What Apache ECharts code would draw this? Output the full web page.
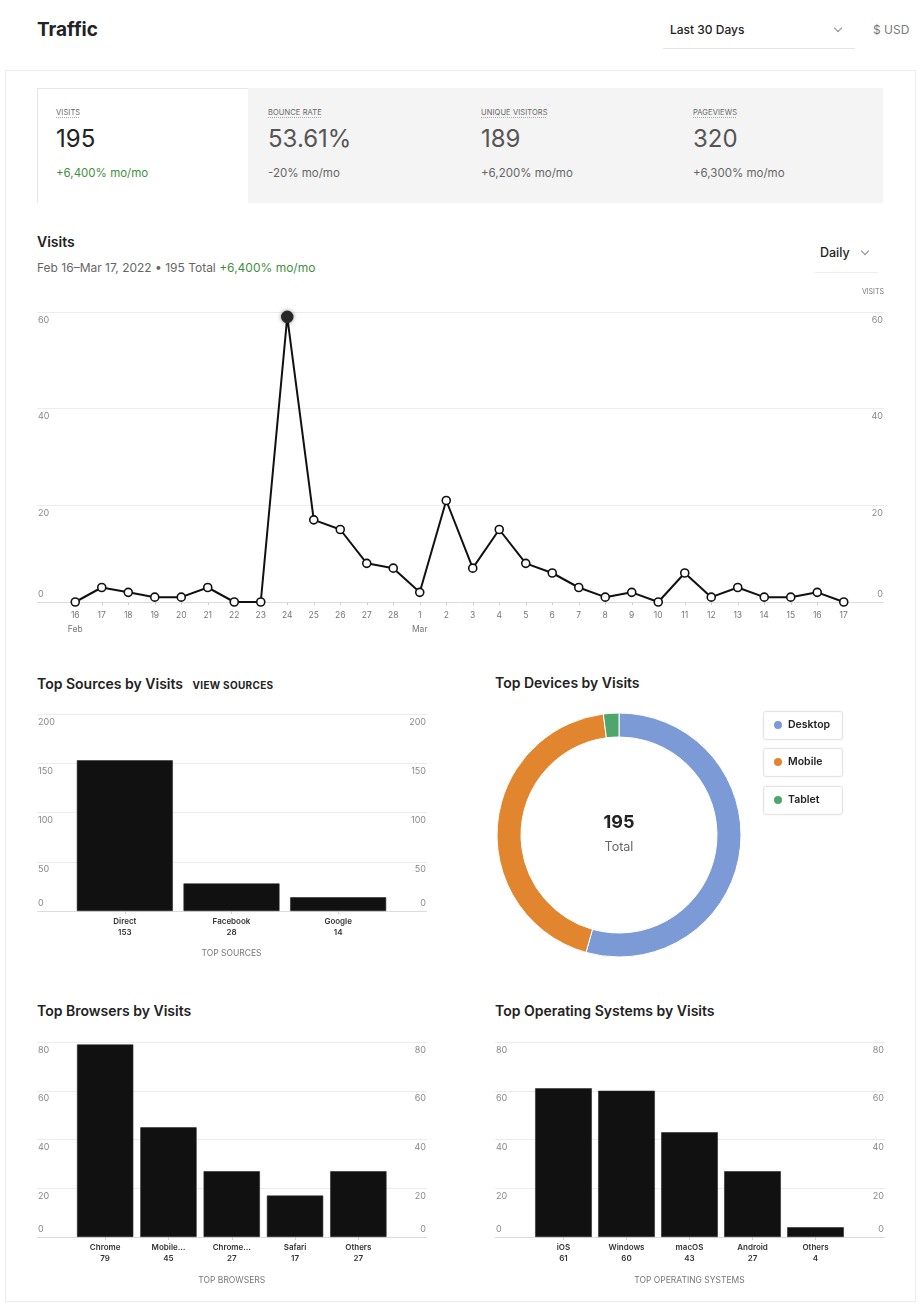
<!DOCTYPE html>
<html>
<head>
<meta charset="utf-8">
<title>Traffic</title>
<script src="https://cdn.jsdelivr.net/npm/echarts@6/dist/echarts.min.js"></script>
<style>
  html, body { margin: 0; padding: 0; background: #fff; }
  body { width: 922px; height: 1311px; position: relative; overflow: hidden;
         font-family: Inter, "Liberation Sans", Arial, sans-serif; color: #222; }
  .abs { position: absolute; white-space: nowrap; }
  .panel { position: absolute; left: 5px; top: 70px; width: 911px; height: 1232px;
           box-sizing: border-box; border: 1px solid #ececec; }
  .chev { position: absolute; width: 5px; height: 5px; border-right: 1px solid #8a8a8a;
          border-bottom: 1px solid #8a8a8a; transform: rotate(45deg); }
  .rule { position: absolute; height: 1px; background: #e4e4e4; }
  .kpi-strip { position: absolute; left: 37px; top: 88px; width: 846px; height: 115px; background: #f4f4f4; }
  .kpi-active { position: absolute; left: 37px; top: 88px; width: 211px; height: 115px; background: #fff;
                box-sizing: border-box; border-left: 1px solid #e6e6e6; border-top: 1px solid #e6e6e6; }
  .kpi-label { font-size: 7.5px; letter-spacing: 0.1px; text-transform: uppercase; color: #666;
               text-decoration: underline dotted #aaa; text-underline-offset: 2px; }
  .kpi-value { font-size: 24px; color: #555; }
  .kpi-change { font-size: 11.5px; color: #666; }
  .up { color: #3f8f42; }
  .h2 { font-size: 14px; font-weight: 600; color: #222; }
  #chart { position: absolute; left: 0; top: 0; width: 922px; height: 1311px; }
</style>
</head>
<body>
<div class="panel"></div>

<div class="abs" style="left:37px;top:18px;height:24px;line-height:24px;font-size:19px;font-weight:700;">Traffic</div>
<div class="abs" style="left:670px;top:22px;height:16px;line-height:16px;font-size:12px;font-weight:500;">Last 30 Days</div>
<div class="chev" style="left:835px;top:25px;"></div>
<div class="rule" style="left:663px;top:48px;width:192px;"></div>
<div class="abs" style="left:873px;top:22px;height:16px;line-height:16px;font-size:12px;color:#7a7a7a;">$ USD</div>

<div class="kpi-strip"></div>
<div class="kpi-active"></div>
<div id="kpis"></div>

<div class="abs" style="left:37px;top:233px;height:18px;line-height:18px;font-size:14px;font-weight:600;">Visits</div>
<div class="abs" style="left:37px;top:260px;height:16px;line-height:16px;font-size:12px;color:#666;">Feb 16–Mar 17, 2022 • 195 Total <span class="up">+6,400% mo/mo</span></div>
<div class="abs" style="left:820px;top:245px;height:16px;line-height:16px;font-size:12.5px;font-weight:500;">Daily</div>
<div class="chev" style="left:862px;top:248px;"></div>
<div class="rule" style="left:815px;top:272px;width:63px;background:#ececec;"></div>

<div class="abs h2" style="left:37px;top:676px;height:16px;line-height:16px;">Top Sources by Visits <span style="margin-left:6px;font-size:10px;font-weight:700;letter-spacing:0.3px;">VIEW SOURCES</span></div>
<div class="abs h2" style="left:495px;top:675px;height:16px;line-height:16px;">Top Devices by Visits</div>
<div class="abs h2" style="left:37px;top:1003px;height:16px;line-height:16px;">Top Browsers by Visits</div>
<div class="abs h2" style="left:495px;top:1003px;height:16px;line-height:16px;">Top Operating Systems by Visits</div>

<div id="chart"></div>

<script>
// ---- KPI summary ----
const kpiLabels  = ['Visits', 'Bounce Rate', 'Unique Visitors', 'Pageviews'];
const kpiValues  = ['195', '53.61%', '189', '320'];
const kpiChanges = ['+6,400% mo/mo', '-20% mo/mo', '+6,200% mo/mo', '+6,300% mo/mo'];

// ---- daily visits, Feb 16 – Mar 17 ----
const days = ['16','17','18','19','20','21','22','23','24','25','26','27','28',
              '1','2','3','4','5','6','7','8','9','10','11','12','13','14','15','16','17'];
const monthNames    = ['Feb', 'Mar'];
const monthStartIdx = [0, 13];
const dailyVisits = [0, 3, 2, 1, 1, 3, 0, 0, 59, 17, 15, 8, 7,
                     2, 21, 7, 15, 8, 6, 3, 1, 2, 0, 6, 1, 3, 1, 1, 2, 0];

// ---- breakdowns ----
const sourceNames  = ['Direct', 'Facebook', 'Google'];
const sourceVisits = [153, 28, 14];
const deviceNames  = ['Desktop', 'Mobile', 'Tablet'];
const deviceVisits = [106, 85, 4];
const browserNames  = ['Chrome', 'Mobile…', 'Chrome…', 'Safari', 'Others'];
const browserVisits = [79, 45, 27, 17, 27];
const osNames  = ['iOS', 'Windows', 'macOS', 'Android', 'Others'];
const osVisits = [61, 60, 43, 27, 4];

// ---- axis scales ----
const visitsAxis   = { max: 60,  interval: 20 };
const sourcesAxis  = { max: 200, interval: 50 };
const browsersAxis = { max: 80,  interval: 20 };
const osAxis       = { max: 80,  interval: 20 };

const deviceColors = ['#7b9ad6', '#e2852f', '#4ea66c'];

// KPI cards
(function buildKpis() {
  const host = document.getElementById('kpis');
  const xs = [56, 268, 481, 693];
  kpiLabels.forEach((lab, i) => {
    const mk = (cls, txt, top, h) => {
      const d = document.createElement('div');
      d.className = 'abs ' + cls;
      d.style.left = xs[i] + 'px';
      d.style.top = top + 'px';
      d.style.height = h + 'px';
      d.style.lineHeight = h + 'px';
      d.textContent = txt;
      host.appendChild(d);
      return d;
    };
    mk('kpi-label', lab, 107, 12);
    const v = mk('kpi-value', kpiValues[i], 124, 30);
    const c = mk('kpi-change', kpiChanges[i], 166, 14);
    if (i === 0) { v.style.color = '#222'; c.classList.add('up'); }
  });
})();

const FONT = 'Inter, "Liberation Sans", Arial, sans-serif';
const chart = echarts.init(document.getElementById('chart'), null, { renderer: 'canvas' });

// value labels sit just under their grid line; the zero label sits just above it
function valueLabels() {
  const base = { fontSize: 9, color: '#888', fontFamily: FONT };
  return {
    inside: true, margin: 1, fontFamily: FONT, fontSize: 9, color: '#888',
    formatter: v => (v === 0 ? '{z|0}' : '{n|' + v + '}'),
    rich: {
      n: Object.assign({ padding: [16, 0, 0, 0] }, base),
      z: Object.assign({ padding: [0, 0, 16, 0] }, base)
    }
  };
}

function frameAxes(gridIndex, scale, withName) {
  const common = {
    type: 'value', gridIndex, min: 0, max: scale.max, interval: scale.interval,
    axisLine: { show: false }, axisTick: { show: false }, axisLabel: valueLabels()
  };
  const left = Object.assign({}, common, {
    position: 'left',
    splitLine: { show: true, lineStyle: { color: ['#dcdcdc', '#ececec', '#ececec', '#ececec', '#ececec'], width: 1 } }
  });
  const right = Object.assign({}, common, { position: 'right', splitLine: { show: false } });
  if (withName) {
    Object.assign(right, {
      name: withName, nameLocation: 'end', nameGap: 17,
      nameTextStyle: { fontSize: 7, color: '#777', align: 'right', fontFamily: FONT }
    });
  }
  return [left, right];
}

function plotY(gridIndex, scale) {
  return { type: 'value', gridIndex, min: 0, max: scale.max, interval: scale.interval, show: false };
}

function barXAxis(gridIndex, names, values, title, nameGap) {
  return {
    type: 'category', gridIndex, data: names,
    axisLine: { show: false },
    axisTick: { show: true, alignWithLabel: true, length: 3, lineStyle: { color: '#d0d0d0' } },
    axisLabel: {
      interval: 0, margin: 5, fontSize: 8, fontWeight: 600, color: '#333', lineHeight: 11, fontFamily: FONT,
      formatter: (name, idx) => name + '\n' + values[idx]
    },
    name: title, nameLocation: 'middle', nameGap,
    nameTextStyle: { fontSize: 8.5, color: '#777', fontFamily: FONT }
  };
}

function barSeries(xIdx, yIdx, values, gap) {
  return {
    type: 'bar', xAxisIndex: xIdx, yAxisIndex: yIdx, data: values,
    barCategoryGap: gap, silent: true,
    itemStyle: { color: '#111', borderColor: '#2a2a2a', borderWidth: 0.6 }
  };
}

const peakIdx = dailyVisits.indexOf(Math.max.apply(null, dailyVisits));
const lineData = dailyVisits.map((v, i) => i === peakIdx
  ? { value: v, symbolSize: 11, itemStyle: { color: '#2b2b2b', borderColor: '#2b2b2b', shadowBlur: 4, shadowColor: 'rgba(0,0,0,0.35)' } }
  : v);

const deviceTotal = deviceVisits.reduce((a, b) => a + b, 0);

const grids = [
  { left: 37,   top: 312,  width: 847,   height: 290 },   // 0 visits frame
  { left: 62,   top: 312,  width: 795,   height: 290 },   // 1 visits plot
  { left: 37,   top: 714,  width: 390,   height: 197 },   // 2 sources frame
  { left: 71.5, top: 714,  width: 320,   height: 197 },   // 3 sources plot
  { left: 37,   top: 1042, width: 390,   height: 195 },   // 4 browsers frame
  { left: 73.5, top: 1042, width: 316.5, height: 195 },   // 5 browsers plot
  { left: 495,  top: 1042, width: 390,   height: 195 },   // 6 os frame
  { left: 532,  top: 1042, width: 315,   height: 195 }    // 7 os plot
];

const hiddenX = g => ({ type: 'value', gridIndex: g, min: 0, max: 1, show: false });

const xAxes = [
  hiddenX(0),
  {
    type: 'category', gridIndex: 1, data: days, boundaryGap: true,
    axisLine: { show: false },
    axisTick: { show: true, alignWithLabel: true, length: 3, lineStyle: { color: '#d0d0d0' } },
    axisLabel: {
      interval: 0, margin: 6, fontSize: 8.5, color: '#777', lineHeight: 14, fontFamily: FONT,
      formatter: (d, idx) => {
        const m = monthStartIdx.indexOf(idx);
        return m >= 0 ? d + '\n' + monthNames[m] : d;
      }
    }
  },
  hiddenX(2),
  barXAxis(3, sourceNames, sourceVisits, 'TOP SOURCES', 38),
  hiddenX(4),
  barXAxis(5, browserNames, browserVisits, 'TOP BROWSERS', 39),
  hiddenX(6),
  barXAxis(7, osNames, osVisits, 'TOP OPERATING SYSTEMS', 39)
];

const yAxes = [].concat(
  frameAxes(0, visitsAxis, 'VISITS'),   // 0,1
  [plotY(1, visitsAxis)],               // 2
  frameAxes(2, sourcesAxis),            // 3,4
  [plotY(3, sourcesAxis)],              // 5
  frameAxes(4, browsersAxis),           // 6,7
  [plotY(5, browsersAxis)],             // 8
  frameAxes(6, osAxis),                 // 9,10
  [plotY(7, osAxis)]                    // 11
);

// one legend entry per device, each sitting in an equal-width box
const legendLeft = 763, legendBoxW = 79, legendBoxH = 28;
const legendTops = [711, 748, 786];
const legends = deviceNames.map((n, i) => ({
  data: [n], left: legendLeft, top: legendTops[i], orient: 'vertical',
  padding: [8, 9], itemWidth: 10, itemHeight: 10, icon: 'circle',
  selectedMode: false,
  textStyle: { fontSize: 10.5, fontWeight: 600, color: '#222', fontFamily: FONT }
}));
const legendBoxes = legendTops.map(t => ({
  type: 'rect', silent: true, z: 0,
  shape: { x: legendLeft + 0.5, y: t + 0.5, width: legendBoxW, height: legendBoxH, r: 2 },
  style: { fill: '#fff', stroke: '#e4e4e4', lineWidth: 1, shadowBlur: 3, shadowColor: 'rgba(0,0,0,0.06)' }
}));

chart.setOption({
  animation: false,
  color: deviceColors,
  textStyle: { fontFamily: FONT },
  grid: grids,
  xAxis: xAxes,
  yAxis: yAxes,
  legend: legends,
  graphic: legendBoxes.concat([
    { type: 'text', x: 619, y: 823, silent: true,
      style: { text: String(deviceTotal), fontSize: 18, fontWeight: 700, fontFamily: FONT, fill: '#222', align: 'center', verticalAlign: 'middle' } },
    { type: 'text', x: 619, y: 847, silent: true,
      style: { text: 'Total', fontSize: 12.5, fontFamily: FONT, fill: '#666', align: 'center', verticalAlign: 'middle' } }
  ]),
  series: [
    {
      type: 'line', xAxisIndex: 1, yAxisIndex: 2, data: lineData,
      symbol: 'circle', symbolSize: 8, showAllSymbol: true, silent: true,
      lineStyle: { color: '#111', width: 2 },
      itemStyle: { color: '#fff', borderColor: '#111', borderWidth: 1.6 },
      z: 5
    },
    barSeries(3, 5, sourceVisits, '10%'),
    barSeries(5, 8, browserVisits, '11%'),
    barSeries(7, 11, osVisits, '10%'),
    {
      type: 'pie', center: [619, 835], radius: [98, 122], startAngle: 90, clockwise: true,
      silent: true, label: { show: false }, labelLine: { show: false },
      itemStyle: { borderColor: '#fff', borderWidth: 1 },
      data: deviceNames.map((n, i) => ({ name: n, value: deviceVisits[i] }))
    }
  ]
});
</script>
</body>
</html>
